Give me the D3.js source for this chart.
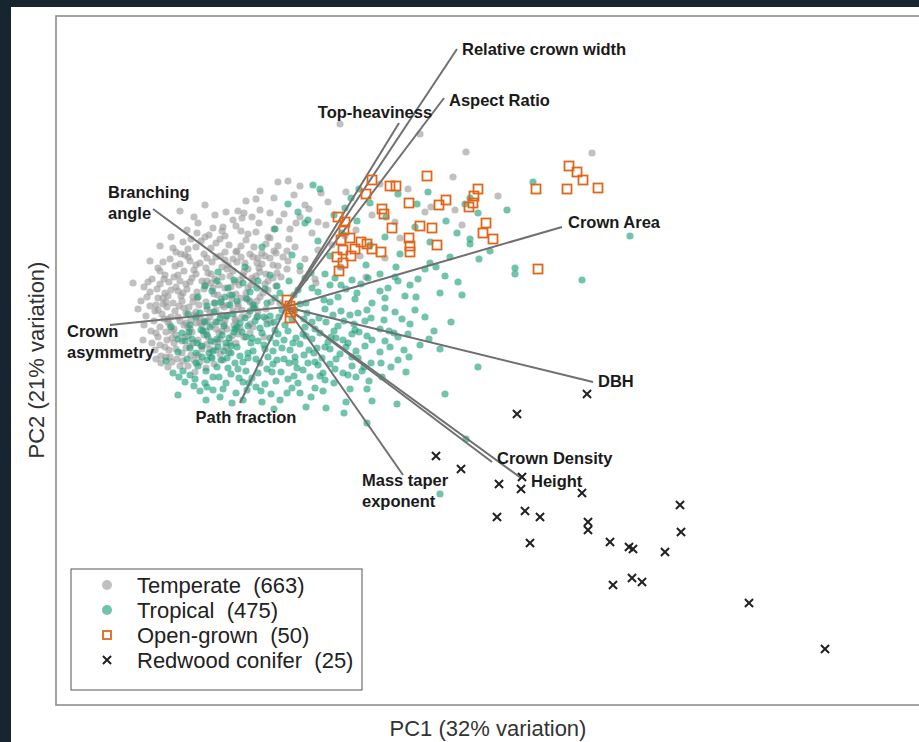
<!DOCTYPE html>
<html lang="en">
<head>
<meta charset="UTF-8">
<title>PCA biplot of tree architecture</title>
<script src="https://cdn.jsdelivr.net/npm/d3@7"></script>
<style>
  body { margin: 0; background: #17252f; }
  svg { display: block; font-family: "Liberation Sans", Arial, sans-serif; }
</style>
</head>
<body>
<script>
// PC scores, [PC1, PC2]
const temperate = [
  [5.4,18.3],[13.4,17.3],[18.0,15.5],[30.6,15.4],[16.7,13.0],[12.2,11.8],[21.2,11.1],[14.5,10.0],[9.4,12.3],[-0.8,12.5],
  [0.2,12.6],[3.5,11.4],[-10.6,9.6],[1.9,10.2],[3.2,8.5],[7.0,7.7],[8.6,9.2],[10.9,8.5],[11.4,6.9],[13.9,9.5],
  [16.9,9.7],[17.6,8.2],[1.4,12.1],[-2.6,11.6],[-4.0,10.6],[3.0,2.4],[5.5,4.0],[8.0,3.0],
  [-3.0,10.8],[-1.2,10.9],[0.8,11.2],[2.3,9.8],[-0.2,9.3],[1.0,8.4],[-4.8,9.6],[-7.1,9.2],[-8.8,8.4],[-7.3,7.9],[4.2,10.5],[6.0,11.5],
  [-9.2,9.0],[-6.0,9.5],[-4.2,9.4],[-8.1,10.2],[-11.5,7.0],[-12.6,6.1],[-13.6,4.6],
  [-6.3,8.0],[-5.3,8.7],[-4.4,8.9],[-3.4,9.0],[-2.6,9.7],[-1.6,9.4],[-9.8,5.8],[-15.3,2.4],[-12.8,0.9],[-11.9,0.0],
  [-14.3,-3.3],[-11.6,-5.0],
  [-8.1,7.0],[-6.4,7.6],[-5.0,8.1],[-3.8,7.3],[-2.7,8.4],[-1.8,7.0],[-0.7,8.6],[0.4,7.8],[1.4,9.0],[2.6,7.4],[4.0,8.2],[5.9,7.1],
  [-11.3,5.9],[-10.3,6.5],[-8.9,7.4],[-7.7,7.2],[-6.1,7.1],[-4.5,7.6],[-3.0,7.5],[-1.2,7.8],[0.3,6.8],[-9.9,7.7],
  [-8.5,6.6],[-7.5,5.9],[-6.6,6.8],[-5.7,6.2],[-4.9,5.6],[-4.0,6.7],[-3.2,6.0],[-2.4,5.4],[-1.6,6.9],[-0.8,6.1],[0.1,5.6],[-9.5,6.8],[-11.0,5.5],
  [-10.1,5.2],[-9.0,6.0],[-7.9,4.9],[-7.0,6.4],[-6.1,5.5],[-5.3,4.8],[-4.5,6.1],[-3.6,5.3],[-2.8,4.9],[-2.0,6.3],
  [-1.2,5.6],[-0.3,5.0],[0.9,6.0],[1.9,4.8],[3.2,5.7],[4.6,6.2],[7.4,5.1],[9.9,4.9],
  [-11.6,4.8],[-10.6,4.3],[-9.8,5.0],[-9.0,4.2],[-8.2,5.3],[-7.4,4.5],[-6.6,5.1],[-5.8,4.2],[-5.0,5.5],[-4.1,4.4],
  [-3.3,5.0],[-2.4,4.3],[-1.6,4.9],[-0.8,4.1],[0.2,4.6],[-12.8,3.9],
  [-12.3,4.5],[-11.2,3.0],[-10.5,5.3],[-9.6,4.6],[-8.0,3.9],[-7.0,5.0],[-6.1,4.7],[-5.3,3.6],[-4.5,5.0],[-3.8,3.8],
  [-2.9,4.4],[-2.1,5.1],[-1.0,5.4],[0.1,3.8],
  [-12.1,3.2],[-11.1,4.1],[-10.2,3.6],[-9.4,2.9],[-8.6,4.4],[-7.8,3.4],[-7.1,2.8],[-6.4,4.0],[-5.6,3.1],[-4.9,4.5],
  [-4.2,3.5],[-3.4,2.9],[-2.7,3.9],[-2.0,3.3],[-1.3,4.2],[-0.5,3.0],[1.4,3.6],[2.9,2.8],[5.4,4.0],
  [-13.4,2.8],[-12.6,3.6],[-11.7,2.5],[-10.8,3.2],[-10.0,2.3],[-9.2,3.7],[-8.4,2.6],[-7.5,3.3],[-6.7,2.2],[-5.9,3.8],
  [-5.1,2.5],[-4.3,3.1],[-3.5,2.2],[-2.6,3.5],[-1.8,2.6],[-0.9,3.4],[-14.2,2.0],
  [-13.8,2.5],[-12.9,1.8],[-12.2,2.8],[-11.5,1.7],[-10.6,2.6],[-9.9,1.8],[-9.0,3.3],[-8.1,2.2],[-7.3,1.9],[-6.4,3.0],
  [-5.5,2.0],[-4.6,2.7],[-3.8,1.9],[-3.0,3.1],[-2.1,2.3],[-1.3,2.9],
  [-13.6,1.5],[-12.6,2.3],[-11.8,1.1],[-11.0,2.0],[-10.3,1.4],[-9.6,2.5],[-8.9,0.9],[-8.2,1.8],[-7.5,2.4],[-6.8,1.2],
  [-6.1,1.9],[-5.4,0.8],[-4.7,2.2],[-4.0,1.4],[-3.3,2.6],[-2.6,1.0],[-1.8,1.7],[-1.0,2.1],
  [-12.3,0.9],[-10.8,1.6],[-9.3,1.0],[-7.9,2.6],[-6.5,0.8],[-5.0,1.3],[-3.6,0.6],
  [-14.5,0.6],[-13.9,1.0],[-13.0,0.2],[-12.1,1.4],[-11.3,0.4],[-10.5,1.1],[-9.7,0.0],[-8.9,1.5],[-8.0,0.5],[-7.2,1.3],
  [-6.4,0.2],[-5.6,1.2],[-4.8,0.0],[-4.0,0.9],[-3.1,0.1],[-2.3,1.4],[-1.5,0.5],
  [-14.8,-0.2],[-13.6,0.1],[-12.8,-0.3],[-12.0,0.5],[-11.1,-0.4],[-10.2,-0.1],[-9.5,-1.3],[-8.7,0.2],[-7.9,-1.4],[-7.0,-0.3],
  [-6.1,-1.3],[-5.3,-0.4],[-4.5,0.9],[-3.8,-0.8],[-2.9,0.6],[-2.0,-0.2],
  [-13.1,-0.4],[-12.3,0.3],[-11.5,-1.0],[-10.7,0.1],[-10.0,-0.6],[-9.3,0.5],[-8.6,-1.1],[-7.9,-0.2],[-7.2,0.4],[-6.5,-0.8],
  [-5.8,0.2],[-5.1,-1.2],[-4.4,-0.3],[-3.6,0.5],[-2.8,-0.9],[-11.8,-1.2],[-10.4,0.6],[-9.0,-0.5],[-7.6,-1.0],[-6.2,0.0],[-4.8,0.3],
  [-14.0,-0.9],[-13.2,-1.4],[-12.4,-0.7],[-11.6,-1.8],[-10.8,-1.0],[-10.0,-1.6],[-9.2,-0.8],[-8.4,-1.8],[-7.6,-0.5],[-6.8,-1.5],
  [-6.0,-0.9],[-5.2,-1.8],[-4.4,-1.0],[-3.6,-1.7],[-2.8,-0.4],[-2.0,-1.2],
  [-14.2,-1.8],[-13.0,-2.6],[-12.2,-1.2],[-11.4,-2.4],[-10.6,-1.4],[-9.8,-2.0],[-9.0,-1.6],[-8.2,-2.8],[-7.4,-1.8],[-6.7,-2.6],
  [-5.9,-2.2],[-5.0,-1.4],[-4.2,-3.0],[-3.3,-2.0],
  [-12.6,-2.0],[-11.8,-1.5],[-11.0,-2.8],[-10.2,-1.8],[-9.4,-2.5],[-8.6,-1.6],[-7.8,-3.0],[-7.0,-2.2],[-6.2,-1.7],[-5.4,-2.9],
  [-4.6,-2.1],[-3.6,-2.6],[-11.4,-3.1],[-9.8,-2.9],[-8.2,-1.4],[-6.6,-3.2],
  [-13.5,-2.4],[-12.8,-3.0],[-12.0,-2.5],[-11.2,-2.2],[-10.4,-3.4],[-9.6,-2.2],[-8.8,-3.3],[-8.0,-2.4],[-7.2,-3.5],[-6.4,-2.4],
  [-5.6,-3.6],[-4.8,-2.7],
  [-13.4,-3.6],[-12.6,-3.8],[-11.9,-3.3],[-11.0,-4.2],[-10.1,-3.0],[-9.3,-3.6],[-8.5,-3.9],[-7.6,-4.2],[-6.8,-3.5],[-5.7,-4.5],
  [-5.0,-3.6],
  [-12.1,-4.0],[-11.2,-3.6],[-10.4,-4.6],[-9.6,-3.9],[-8.8,-4.8],[-7.9,-3.7],[-7.0,-4.3],[-6.0,-4.0],
  [-13.1,-4.3],[-12.5,-4.9],[-11.7,-4.3],[-10.9,-5.2],[-10.0,-4.1],[-9.2,-5.3],[-8.4,-4.2],[-7.5,-5.0],[-6.6,-4.7],
  [-12.0,-5.0],[-11.4,-5.5],[-10.3,-5.4],[-9.5,-4.8],[-8.6,-5.5],[-7.2,-5.7],[-6.3,-5.3],
  [-10.6,-5.9],[-9.1,-6.5],[-13.0,-5.2],[-11.8,-6.0],[-9.8,-5.9],[-8.0,-6.1],[-12.5,-5.6],
  [-1.5,-1.6],[-0.6,0.4],[-2.2,-3.0]
];

const tropical = [
  [2.7,12.2],[3.4,11.8],[11.2,11.3],[14.2,11.5],[6.5,10.9],[8.4,10.4],[0.2,10.3],[24.7,12.5],[17.9,10.3],[22.1,9.7],
  [19.2,9.4],[1.2,9.5],[2.2,8.7],[4.8,9.2],[5.9,9.9],[18.4,10.9],
  [10.0,9.0],[13.1,10.3],[16.0,8.6],[17.1,7.4],[7.3,11.8],[15.0,4.0],[11.0,4.0],[13.0,1.0],[16.5,-1.5],[12.0,-6.5],
  [6.0,-9.5],[10.5,-6.0],
  [-2.4,6.0],[-1.1,7.8],[0.6,5.2],[1.9,8.4],[3.2,6.6],[4.4,5.1],[5.6,7.4],[7.1,8.6],[8.4,6.2],[9.9,7.0],
  [11.4,5.3],[12.9,8.0],[14.4,6.5],[16.4,5.0],[18.4,6.8],[20.4,5.6],[34.4,7.1],[22.9,3.9],[22.9,3.3],[19.3,4.8],
  [29.6,2.7],[18.4,6.3],
  [-8.1,2.1],[-6.8,3.5],[-5.4,1.2],[-4.1,4.0],[-2.8,2.6],[-1.6,3.2],[1.4,4.1],[2.6,1.9],[3.9,3.3],[5.2,1.0],
  [6.6,2.7],[8.0,4.2],[9.4,1.6],[10.9,3.0],[12.4,2.2],[13.9,3.8],[15.4,1.4],[17.2,2.5],[-6.1,1.0],[-3.6,1.5],
  [-1.1,0.9],[1.9,2.9],[4.4,2.2],[6.9,0.8],[9.4,3.3],[11.9,1.1],[14.4,4.4],
  [-7.4,1.6],[-6.5,0.5],[-5.8,1.9],[-4.9,0.6],[-4.3,2.4],[-3.3,0.2],[-2.1,1.8],[-0.6,1.4],[0.8,1.2],[2.0,0.4],
  [3.2,1.5],[4.9,2.9],[6.0,1.8],[7.5,2.3],[8.6,0.4],[10.2,1.9],
  [-8.8,1.0],[-7.9,0.1],[-6.9,2.6],[-5.2,2.7],[-3.9,0.8],[-2.9,1.9],[-1.9,0.4],[-0.9,2.1],[0.3,2.6],[1.2,1.7],
  [2.5,3.4],[3.8,0.7],[5.5,2.2],[7.1,1.4],[8.2,2.9],[9.9,0.9],[11.2,2.6],[13.2,2.8],[15.9,3.1],[17.6,1.2],
  [-9.6,-1.8],[-8.6,-0.6],[-7.6,-2.0],[-6.6,-1.1],[-5.6,0.2],[-4.6,-1.6],[-3.6,-0.4],[-2.6,-2.1],[-1.6,-0.9],[1.4,0.3],
  [2.6,-1.5],[3.9,-0.2],[5.2,-1.9],[6.4,-0.8],[7.9,-1.4],[9.4,-2.2],[10.9,-0.5],[12.4,-1.7],[13.9,-1.0],[-7.1,0.4],
  [-5.1,-2.2],[-3.1,-1.4],[-1.1,-2.3],[-0.1,-1.8],[1.9,-2.0],[4.4,0.5],[6.9,-2.3],[9.9,-0.1],
  [-9.0,-1.0],[-8.1,-1.5],[-7.2,-0.5],[-6.2,-1.9],[-5.3,-0.7],[-4.1,-1.1],[-3.2,-0.1],[-2.2,-1.0],[-1.2,-1.5],[-0.4,-0.3],
  [0.6,-1.2],[2.1,-0.6],[3.3,-1.1],[4.7,-0.8],[5.8,-1.4],[7.2,-0.6],[8.5,-1.1],[11.6,-1.2],
  [-9.8,-0.7],[-8.3,-2.4],[-7.0,-1.5],[-5.9,-0.9],[-4.9,-2.0],[-3.8,-1.9],[-2.9,-1.0],[-1.9,-1.7],[-0.7,-1.0],[0.9,-0.3],
  [1.8,-1.2],[2.9,-2.2],[4.0,-1.5],[5.5,-0.4],[6.8,-1.7],[8.1,-0.3],[9.8,-1.3],[10.8,-2.6],[12.9,-0.3],[14.8,-2.4],
  [-10.1,-3.4],[-9.0,-4.6],[-7.9,-2.8],[-6.8,-4.0],[-5.7,-3.1],[-4.6,-4.9],[-3.5,-3.6],[-2.4,-2.6],[-1.3,-4.4],[-0.2,-3.3],
  [0.9,-5.0],[2.0,-2.9],[3.1,-4.1],[4.2,-3.5],[5.4,-4.7],[6.6,-2.7],[7.9,-3.9],[9.4,-4.5],[11.2,-3.0],[13.4,-3.8],
  [15.4,-4.2],[-7.4,-5.1],[-5.2,-2.5],[-3.0,-5.2],[-0.8,-2.7],[1.4,-3.7],[3.6,-5.1],[-8.4,-3.9],[-6.2,-4.4],[-4.0,-3.0],
  [-1.8,-5.0],[0.4,-4.3],[2.6,-3.2],[4.8,-2.4],
  [-10.4,-2.6],[-9.4,-3.2],[-8.5,-2.3],[-7.5,-3.4],[-6.4,-2.8],[-5.5,-3.9],[-4.4,-2.5],[-3.4,-3.1],[-2.2,-3.8],[-1.0,-3.6],
  [0.2,-2.4],[1.0,-3.1],[2.3,-4.3],[3.4,-2.6],[5.0,-3.1],[6.2,-3.6],[7.3,-2.5],[8.6,-3.3],[10.3,-2.4],[12.2,-2.7],
  [-10.8,-3.2],[-9.7,-2.5],[-8.9,-3.6],[-7.7,-4.6],[-6.9,-3.2],[-6.0,-3.6],[-4.9,-4.0],[-3.8,-4.6],[-2.8,-3.4],[-1.6,-3.1],
  [-0.4,-4.1],[0.7,-3.6],[1.7,-2.7],[2.8,-4.6],[3.9,-4.0],[4.5,-3.0],[5.7,-3.3],[7.0,-4.4],[8.1,-2.9],[9.9,-3.4],
  [11.8,-4.3],[14.3,-3.2],
  [-9.6,-4.1],[-8.4,-5.0],[-7.3,-4.4],[-6.5,-5.3],[-5.5,-4.6],[-4.3,-5.5],[-3.3,-4.4],[-2.1,-4.2],[-0.9,-5.3],[0.3,-5.6],
  [1.8,-4.8],[2.9,-5.5],[4.4,-4.2],[6.0,-4.0],[7.2,-5.1],[8.5,-5.6],[10.4,-4.0],[12.3,-5.0],
  [-9.9,-5.2],[-9.0,-5.6],[-7.9,-5.3],[-6.9,-6.0],[-5.9,-5.1],[-4.8,-6.2],[-3.8,-5.1],[-2.6,-5.6],[-1.4,-6.5],[-0.2,-5.2],
  [1.1,-6.1],[2.2,-5.6],[3.4,-6.9],[5.0,-5.2],[6.6,-5.0],[7.8,-6.0],[9.5,-5.6],[11.2,-5.3],
  [-10.3,-6.4],[-8.8,-5.9],[-7.3,-7.0],[-5.8,-6.1],[-4.3,-7.5],[-2.8,-6.6],[-1.3,-5.7],[0.2,-7.2],[1.7,-6.3],[3.2,-5.8],
  [4.9,-6.2],[5.7,-6.6],[6.2,-6.8],[6.6,-5.9],[9.6,-7.0],[-8.1,-7.6],[-5.1,-5.6],[-2.1,-7.7],[0.9,-5.5],[3.9,-7.3],
  [-9.6,-6.8],[-8.0,-6.4],[-6.7,-7.0],[-5.5,-6.7],[-4.0,-6.4],[-3.4,-7.1],[-1.9,-6.2],[-0.5,-6.5],[0.8,-6.9],[2.4,-7.0],
  [3.7,-6.6],[4.4,-5.7],[7.6,-6.4],[8.3,-7.4],
  [-10.7,-7.0],[-9.1,-7.2],[-7.9,-8.0],[-6.3,-8.2],[-4.7,-7.1],[-3.7,-7.6],[-2.5,-8.4],[-1.0,-7.4],[0.1,-8.6],[1.2,-7.6],
  [2.9,-8.1],[4.8,-7.6],[6.4,-8.2],[7.0,-7.0],
  [-10.1,-7.5],[-8.6,-8.4],[-6.6,-9.0],[-3.9,-8.3],[-2.4,-9.5],[-0.6,-9.3],[1.4,-8.6],[3.7,-8.4],[4.0,-10.1],[8.1,-8.2],
  [8.6,-9.4],[11.1,-9.7],[8.1,-11.6],[15.9,-8.7],[19.2,-6.0],[18.0,-13.2],[15.4,-18.7],[-11.5,-2.0],[-10.8,-4.5],
  [-9.2,-7.9],[-7.3,-8.3],[-5.0,-8.6],[-3.0,-8.0],[-1.5,-8.7],[0.6,-8.1],[2.5,-9.0],[-6.0,-7.6],[-4.3,-9.3],[-12.0,-5.4],
  [-11.3,-6.6],[-8.0,-9.3],[-5.4,-9.6],[-1.2,-10.2],[2.0,-10.0],[5.8,-10.6],[-10.8,-8.8]
];

const openGrown = [
  [8.6,12.7],[14.1,13.1],[10.4,12.1],[11.0,12.1],[8.0,11.3],[19.2,11.8],[18.8,11.1],[16.0,10.7],[15.3,10.2],[12.3,10.4],
  [9.6,9.8],[18.7,10.4],[18.3,10.0],[25.0,11.8],[28.3,14.1],[29.1,13.5],[29.7,12.7],[28.1,11.8],[31.2,11.9],[20.0,8.4],
  [19.7,7.4],[20.7,6.8],[25.2,3.8],[5.2,9.0],[5.8,7.7],[5.5,6.7],[5.7,5.7],[5.1,5.0],[5.7,4.4],[5.3,3.6],
  [6.9,5.8],[8.1,6.3],[8.6,5.8],[9.5,5.5],[9.8,9.3],[10.6,7.9],[13.4,8.1],[14.6,7.9],[15.1,6.2],[12.4,6.1],
  [12.4,5.5],[7.5,6.5],[6.4,6.9],[0.4,0.1],[0.5,-0.5],[0.4,-1.1],[0.1,0.7],[5.9,8.5],[12.3,6.9],[6.5,5.1]
];

const redwood = [
  [30.1,-8.7],[23.1,-10.7],[15.0,-14.9],[17.5,-16.2],[21.3,-17.7],[23.6,-17.0],[23.5,-18.2],[29.6,-18.6],[39.4,-19.8],[21.1,-21.0],
  [23.9,-20.4],[25.4,-21.0],[30.2,-21.5],[30.2,-22.3],[39.5,-22.5],[24.4,-23.6],[32.4,-23.5],[34.3,-24.0],[34.7,-24.2],[37.9,-24.5],
  [32.7,-27.8],[34.6,-27.1],[35.6,-27.5],[46.3,-29.6],[53.9,-34.2]
];

// variable loadings (same units as scores)
const loadingNames = ["Relative crown width", "Aspect Ratio", "Top-heaviness", "Branching angle", "Crown asymmetry",
  "Path fraction", "Mass taper exponent", "Crown Density", "Height", "DBH", "Crown Area"];
const loadingPC1 = [17.1, 15.8, 11.3, -13.3, -17.6, -4.6, 11.7, 20.6, 23.5, 30.7, 27.6];
const loadingPC2 = [25.8, 20.9, 18.4, 9.8, -1.8, -9.6, -16.8, -15.5, -17.1, -7.5, 8.0];

const groupNames = ["Temperate", "Tropical", "Open-grown", "Redwood conifer"];
const groupCounts = [663, 475, 50, 25];

// label placement next to each loading tip
const labelLayout = {
  "Relative crown width": { dx: 5, dy: 6, anchor: "start", lines: ["Relative crown width"] },
  "Aspect Ratio": { dx: 5, dy: 8, anchor: "start", lines: ["Aspect Ratio"] },
  "Top-heaviness": { dx: -24, dy: -5, anchor: "middle", lines: ["Top-heaviness"] },
  "Branching angle": { dx: -45, dy: -11, anchor: "start", lines: ["Branching", "angle"] },
  "Crown asymmetry": { dx: -43, dy: 12, anchor: "start", lines: ["Crown", "asymmetry"] },
  "Path fraction": { dx: 6, dy: 20, anchor: "middle", lines: ["Path fraction"] },
  "Mass taper exponent": { dx: -41, dy: 11, anchor: "start", lines: ["Mass taper", "exponent"] },
  "Crown Density": { dx: 5, dy: 2, anchor: "start", lines: ["Crown Density"] },
  "Height": { dx: 10, dy: 9, anchor: "start", lines: ["Height"] },
  "DBH": { dx: 5, dy: 5, anchor: "start", lines: ["DBH"] },
  "Crown Area": { dx: 6, dy: 1, anchor: "start", lines: ["Crown Area"] }
};

const width = 919, height = 742;
const frame = { left: 56, top: 16, right: 925, bottom: 705 };

const svg = d3.select("body").append("svg")
  .attr("width", width)
  .attr("height", height);

// white page behind the chart
svg.append("rect")
  .attr("x", 11).attr("y", 7)
  .attr("width", width - 11).attr("height", height - 7)
  .attr("fill", "#ffffff");

const x = d3.scaleLinear().domain([-23, 63.9]).range([frame.left, frame.right]);
const y = d3.scaleLinear().domain([-39.8, 29.1]).range([frame.bottom, frame.top]);

svg.append("clipPath").attr("id", "clip")
  .append("rect")
  .attr("x", frame.left).attr("y", frame.top)
  .attr("width", frame.right - frame.left).attr("height", frame.bottom - frame.top);

const plot = svg.append("g").attr("clip-path", "url(#clip)");

// scores
plot.append("g")
  .selectAll("circle")
  .data(temperate)
  .join("circle")
  .attr("cx", d => x(d[0]))
  .attr("cy", d => y(d[1]))
  .attr("r", 3.6)
  .attr("fill", "#999999")
  .attr("fill-opacity", 0.62);

plot.append("g")
  .selectAll("circle")
  .data(tropical)
  .join("circle")
  .attr("cx", d => x(d[0]))
  .attr("cy", d => y(d[1]))
  .attr("r", 3.6)
  .attr("fill", "#1b9e77")
  .attr("fill-opacity", 0.62);

// loading vectors
const loadings = loadingNames.map((n, i) => ({ name: n, pc1: loadingPC1[i], pc2: loadingPC2[i] }));

plot.append("g")
  .selectAll("line")
  .data(loadings)
  .join("line")
  .attr("x1", x(0)).attr("y1", y(0))
  .attr("x2", d => x(d.pc1))
  .attr("y2", d => y(d.pc2))
  .attr("stroke", "#707070")
  .attr("stroke-width", 2);

plot.append("g")
  .selectAll("rect")
  .data(openGrown)
  .join("rect")
  .attr("x", d => x(d[0]) - 4.5)
  .attr("y", d => y(d[1]) - 4.5)
  .attr("width", 9).attr("height", 9)
  .attr("fill", "none")
  .attr("stroke", "#e0661c")
  .attr("stroke-width", 1.8);

const cross = d3.symbol().type(d3.symbolX).size(45);
plot.append("g")
  .selectAll("path")
  .data(redwood)
  .join("path")
  .attr("transform", d => `translate(${x(d[0])},${y(d[1])})`)
  .attr("d", cross)
  .attr("fill", "none")
  .attr("stroke", "#222222")
  .attr("stroke-width", 2);

// loading labels
const labels = svg.append("g")
  .attr("font-size", 16.5)
  .attr("font-weight", "bold")
  .attr("fill", "#1a1a1a");

loadings.forEach(d => {
  const lay = labelLayout[d.name];
  const t = labels.append("text")
    .attr("text-anchor", lay.anchor)
    .attr("x", x(d.pc1) + lay.dx)
    .attr("y", y(d.pc2) + lay.dy);
  lay.lines.forEach((line, i) => {
    t.append("tspan")
      .attr("x", x(d.pc1) + lay.dx)
      .attr("dy", i === 0 ? 0 : 21)
      .text(line);
  });
});

// plot frame
svg.append("rect")
  .attr("x", frame.left).attr("y", frame.top)
  .attr("width", frame.right - frame.left).attr("height", frame.bottom - frame.top)
  .attr("fill", "none")
  .attr("stroke", "#8c8c8c")
  .attr("stroke-width", 1.6);

// axis titles
svg.append("text")
  .attr("x", 488).attr("y", 736)
  .attr("text-anchor", "middle")
  .attr("font-size", 22)
  .attr("fill", "#333333")
  .text("PC1 (32% variation)");

svg.append("text")
  .attr("transform", "translate(44,360) rotate(-90)")
  .attr("text-anchor", "middle")
  .attr("font-size", 22)
  .attr("fill", "#333333")
  .text("PC2 (21% variation)");

// legend
const legend = svg.append("g").attr("transform", "translate(71,569)");
legend.append("rect")
  .attr("width", 291).attr("height", 121)
  .attr("fill", "#ffffff")
  .attr("stroke", "#555555")
  .attr("stroke-width", 1);

const rowY = d3.scalePoint().domain(groupNames).range([16, 91]);

groupNames.forEach((g, i) => {
  const cy = rowY(g);
  if (i === 0) legend.append("circle").attr("cx", 36).attr("cy", cy).attr("r", 5).attr("fill", "#999999").attr("fill-opacity", 0.62);
  if (i === 1) legend.append("circle").attr("cx", 36).attr("cy", cy).attr("r", 5).attr("fill", "#1b9e77").attr("fill-opacity", 0.62);
  if (i === 2) legend.append("rect").attr("x", 32).attr("y", cy - 4).attr("width", 8).attr("height", 8)
    .attr("fill", "none").attr("stroke", "#e0661c").attr("stroke-width", 1.8);
  if (i === 3) legend.append("path").attr("transform", `translate(36,${cy})`).attr("d", cross)
    .attr("fill", "none").attr("stroke", "#222222").attr("stroke-width", 2);
  legend.append("text")
    .attr("x", 66).attr("y", cy + 7.5)
    .attr("font-size", 22)
    .attr("fill", "#222222")
    .style("white-space", "pre")
    .text(`${g}  (${groupCounts[i]})`);
});
</script>
</body>
</html>
